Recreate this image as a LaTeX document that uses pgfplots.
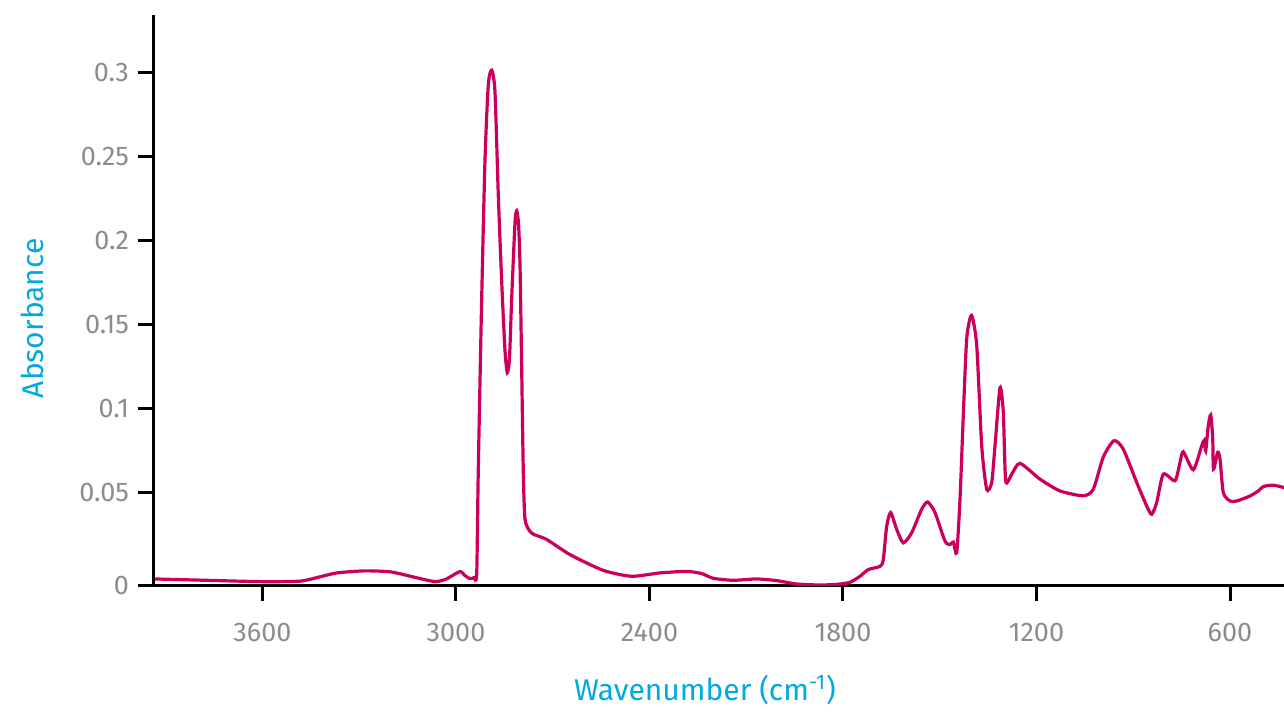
\documentclass[border=0pt]{standalone}
\usepackage{fontspec}
\setmainfont{Fira Sans}
\usepackage{pgfplots}
\pgfplotsset{compat=1.18}
\definecolor{curve}{RGB}{204,0,92}
\definecolor{lab}{RGB}{0,169,224}
\definecolor{tickgray}{RGB}{140,140,140}
\begin{document}
\begin{tikzpicture}
\begin{axis}[
 at={(0,0)}, anchor=south west,
 scale only axis, width=565pt, height=285pt,
 x dir=reverse, xmin=432.6, xmax=3936.4, ymin=-0.0048, ymax=0.3345,
 axis x line=bottom, axis y line=left,
 axis line style={-, line width=1.5pt, black},
 xtick={600,1200,1800,2400,3000,3600},
 xticklabels={600,1200,1800,2400,3000,3600},
 ytick={-0.0048,0.05,0.1,0.15,0.2,0.25,0.3},
 yticklabels={0,0.05,0.1,0.15,0.2,0.25,0.3},
 tick align=outside, major tick length=8pt,
 tick style={line width=1.5pt, black},
 ticklabel style={font=\fontsize{13.5}{16}\selectfont, text=tickgray},
 xticklabel style={yshift=-7.5pt},
 yticklabel style={xshift=-1pt},
 xlabel={Wavenumber (cm\textsuperscript{-1})},
 ylabel={Absorbance},
 label style={font=\fontsize{15}{18}\selectfont, text=lab},
 xlabel style={at={(axis description cs:0.4876,-0.184)}, anchor=center},
 ylabel style={at={(axis description cs:-0.108,0.468)}, anchor=center},
]
\addplot[curve, line width=1.6pt, smooth, tension=0.4] table {
x y
3933.3 -0.0012
3793.8 -0.0019
3603.0 -0.0028
3483.7 -0.0025
3423.6 0.0000
3369.0 0.0024
3285.3 0.0036
3202.5 0.0030
3119.4 -0.0006
3064.2 -0.0028
3029.5 -0.0012
2988.2 0.0032
2972.1 0.0008
2956.6 -0.0010
2944.2 -0.0004
2935.8 0.0016
2930.9 0.0631
2920.3 0.1657
2910.1 0.2478
2899.8 0.2930
2889.3 0.3016
2879.1 0.2889
2868.8 0.2273
2858.3 0.1760
2848.1 0.1350
2840.9 0.1216
2834.1 0.1300
2827.3 0.1657
2817.0 0.2109
2811.8 0.2179
2806.2 0.2107
2801.5 0.1862
2796.3 0.1247
2791.3 0.0631
2786.0 0.0344
2770.5 0.0271
2755.0 0.0250
2718.8 0.0223
2646.5 0.0133
2543.2 0.0039
2455.2 0.0004
2367.4 0.0024
2284.6 0.0033
2238.1 0.0020
2202.2 -0.0008
2140.2 -0.0020
2067.6 -0.0012
2005.6 -0.0022
1943.6 -0.0042
1871.3 -0.0048
1819.5 -0.0044
1778.3 -0.0032
1747.3 0.0004
1721.5 0.0044
1685.3 0.0063
1675.0 0.0103
1664.5 0.0303
1652.1 0.0383
1633.5 0.0283
1613.0 0.0203
1587.0 0.0263
1556.0 0.0403
1537.4 0.0446
1514.7 0.0383
1483.7 0.0213
1468.2 0.0193
1457.9 0.0207
1447.4 0.0144
1437.2 0.0462
1427.0 0.0961
1416.4 0.1419
1401.5 0.1557
1385.4 0.1379
1369.9 0.0781
1354.4 0.0522
1338.9 0.0562
1328.7 0.0781
1313.2 0.1126
1302.9 0.0981
1295.5 0.0572
1276.9 0.0612
1251.1 0.0676
1189.1 0.0582
1127.1 0.0512
1054.9 0.0483
1023.9 0.0522
992.8 0.0714
959.7 0.0811
931.0 0.0761
889.2 0.0562
858.2 0.0422
842.8 0.0373
827.3 0.0443
806.8 0.0612
770.5 0.0572
755.0 0.0682
744.8 0.0745
713.8 0.0638
687.7 0.0781
680.6 0.0811
675.3 0.0751
667.3 0.0901
659.8 0.0965
653.6 0.0821
651.1 0.0642
638.1 0.0742
631.0 0.0702
620.8 0.0502
600.0 0.0452
579.2 0.0452
537.9 0.0482
512.2 0.0512
496.7 0.0538
465.7 0.0546
432.5 0.0532
};
\end{axis}
\pgfresetboundingbox
\path (-77pt,-63.5pt) rectangle (565pt,292.5pt);
\end{tikzpicture}
\end{document}
